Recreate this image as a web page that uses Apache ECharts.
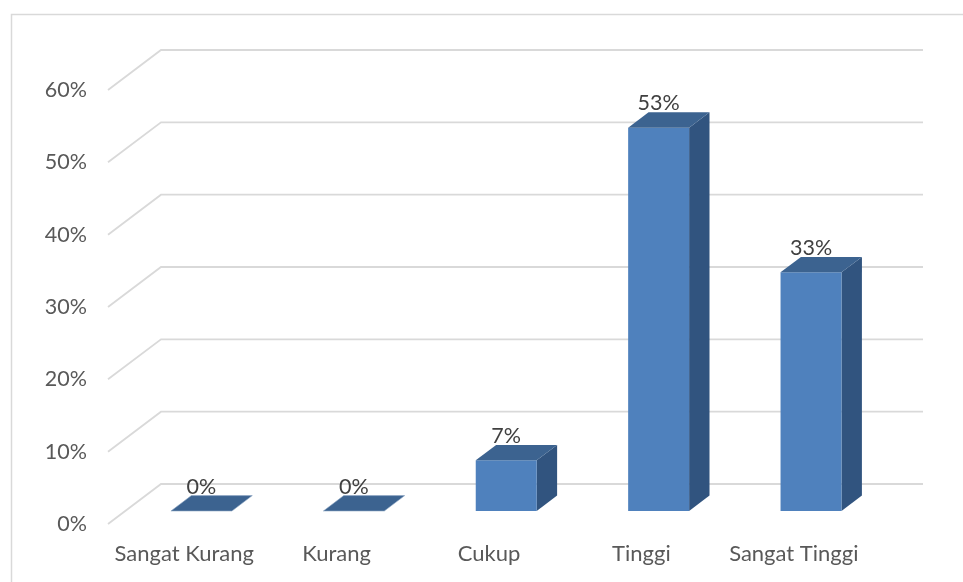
<!DOCTYPE html>
<html><head><meta charset="utf-8">
<script src="https://cdn.jsdelivr.net/npm/echarts@6/dist/echarts.min.js"></script>
<style>html,body{margin:0;padding:0;background:#fff}#c{width:963px;height:582px}</style>
</head><body><div id="c"></div>
<script>
const categories = ['Sangat Kurang', 'Kurang', 'Cukup', 'Tinggi', 'Sangat Tinggi'];
const values = [0, 0, 7, 53, 33];
const yTicks = [0, 10, 20, 30, 40, 50, 60];

const DX = 53, DY = -40, F1 = 0.325, F2 = 0.71, BW = 0.4;
const FONT = 'Lato';
const chart = echarts.init(document.getElementById('c'), null, {renderer: 'canvas'});
chart.setOption({
  animation: false,
  grid: {left: 108, right: 93, top: 90, bottom: 58},
  xAxis: {type: 'category', data: categories, axisLine: {show: false}, axisTick: {show: false},
    axisLabel: {color: '#595959', fontFamily: FONT, fontSize: 22, margin: 19, interval: 0}},
  yAxis: {type: 'value', min: 0, max: 60, interval: 10, axisLine: {show: false}, axisTick: {show: false},
    splitLine: {show: false},
    axisLabel: {formatter: '{value}%', color: '#595959', fontFamily: FONT, fontSize: 21.5, margin: 21}},
  graphic: [{type: 'rect', shape: {x: 11.5, y: 14.5, width: 960, height: 600},
    style: {fill: null, stroke: '#D9D9D9', lineWidth: 1.5}, silent: true}],
  series: [
    {type: 'custom', z: 1, silent: true, data: yTicks.map(v => [0, v]),
      renderItem(params, api) {
        const v = api.value(1);
        const p = api.coord([0, v]);
        const bw = api.size([1, 0])[0];
        const xl = p[0] - bw / 2;
        const xr = api.coord([categories.length - 1, v])[0] + bw / 2;
        return {type: 'polyline', shape: {points: [[xl, p[1]], [xl + DX, p[1] + DY], [xr + DX, p[1] + DY]]},
          style: {stroke: '#D9D9D9', lineWidth: 1.8, fill: null}};
      }},
    {type: 'custom', z: 2, data: values.map((v, i) => [i, v]),
      renderItem(params, api) {
        const i = api.value(0), v = api.value(1);
        const p0 = api.coord([i, 0]), p1 = api.coord([i, v]);
        const band = api.size([1, 0])[0];
        const w = band * BW;
        const cx = p0[0] + F1 * DX;
        const yb = p0[1] + F1 * DY, yt = p1[1] + F1 * DY;
        const xl = cx - w / 2, xr = cx + w / 2;
        const ddx = (F2 - F1) * DX, ddy = (F2 - F1) * DY;
        return {type: 'group', children: [
          {type: 'polygon', shape: {points: [[xr, yt], [xr + ddx, yt + ddy], [xr + ddx, yb + ddy], [xr, yb]]},
            style: {fill: '#31547F'}},
          {type: 'rect', shape: {x: xl, y: yt, width: w, height: yb - yt}, style: {fill: '#4F81BD'}},
          {type: 'polygon', shape: {points: [[xl, yt], [xr, yt], [xr + ddx, yt + ddy], [xl + ddx, yt + ddy]]},
            style: {fill: '#3C6390', stroke: v === 0 ? '#8FA7C4' : null, lineWidth: 0.6}},
          {type: 'text', z2: 10, style: {text: v + '%', x: cx, y: yt + ddy - 9, align: 'center', verticalAlign: 'middle',
            fill: '#404040', fontFamily: FONT, fontSize: 21.5}}
        ]};
      }}
  ]
});
</script></body></html>
